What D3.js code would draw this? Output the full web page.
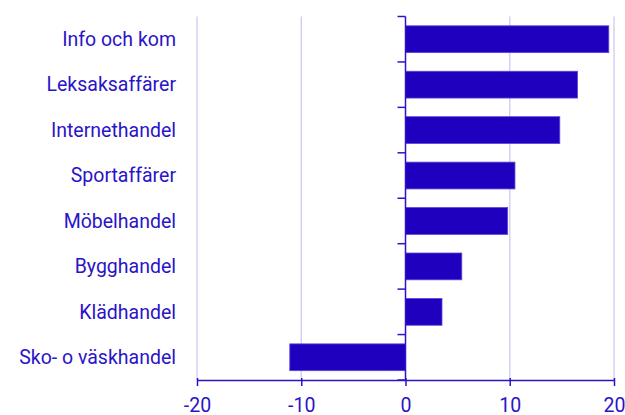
<!DOCTYPE html>
<html>
<head>
<meta charset="utf-8">
<script src="https://cdn.jsdelivr.net/npm/d3@7"></script>
<style>
  body { margin: 0; background: #fff; }
  text { font-family: Roboto, sans-serif; }
</style>
</head>
<body>
<div id="chart"></div>
<script>
"use strict";

var categories = ["Info och kom", "Leksaksaffärer", "Internethandel", "Sportaffärer",
                  "Möbelhandel", "Bygghandel", "Klädhandel", "Sko- o väskhandel"];
var values     = [19.5, 16.5, 14.8, 10.5, 9.8, 5.4, 3.5, -11.1];
var xTicks     = [-20, -10, 0, 10, 20];

var width  = 625;
var height = 415;
var margin = { top: 16.5, right: 11, bottom: 35, left: 197 };
var ink    = "#2a14c8";
var barCol = "#1f00bf";
var grid   = "#d4d2f2";
var fontSize = 19.5;

var svg = d3.select("#chart").append("svg")
  .attr("width", width)
  .attr("height", height);

var x = d3.scaleLinear()
  .domain([-20, 20])
  .range([margin.left, width - margin.right]);

var y = d3.scaleBand()
  .domain(categories)
  .range([margin.top, height - margin.bottom])
  .paddingInner(0.41)
  .paddingOuter(0.205);

// gridlines
svg.append("g")
  .selectAll("line")
  .data(xTicks.filter(function(d) { return d !== 0; }))
  .enter().append("line")
  .attr("x1", function(d) { return x(d); })
  .attr("x2", function(d) { return x(d); })
  .attr("y1", margin.top)
  .attr("y2", height - margin.bottom)
  .attr("stroke", grid)
  .attr("stroke-width", 1.5);

// bars
svg.append("g")
  .selectAll("rect")
  .data(values)
  .enter().append("rect")
  .attr("x", function(d) { return x(Math.min(0, d)); })
  .attr("y", function(d, i) { return y(categories[i]); })
  .attr("width", function(d) { return Math.abs(x(d) - x(0)); })
  .attr("height", y.bandwidth())
  .attr("fill", barCol)
  .attr("stroke", "#5a46d6")
  .attr("stroke-width", 0.8);

// zero line with category separators
var zero = svg.append("g");
zero.append("line")
  .attr("x1", x(0)).attr("x2", x(0))
  .attr("y1", margin.top).attr("y2", height - margin.bottom)
  .attr("stroke", ink)
  .attr("stroke-width", 1.5);

var seps = d3.range(categories.length + 1).map(function(i) {
  return margin.top + i * (height - margin.top - margin.bottom) / categories.length;
});
zero.selectAll(".sep")
  .data(seps)
  .enter().append("line")
  .attr("class", "sep")
  .attr("x1", x(0) - 8).attr("x2", x(0))
  .attr("y1", function(d) { return d; })
  .attr("y2", function(d) { return d; })
  .attr("stroke", ink)
  .attr("stroke-width", 1.5);

// category labels
svg.append("g")
  .selectAll("text")
  .data(categories)
  .enter().append("text")
  .attr("x", 176)
  .attr("y", function(d) { return y(d) + y.bandwidth() / 2; })
  .attr("dy", "0.35em")
  .attr("text-anchor", "end")
  .attr("fill", ink)
  .attr("font-size", fontSize)
  .text(function(d) { return d; });

// x axis
var xAxis = svg.append("g")
  .attr("transform", "translate(0," + (height - margin.bottom) + ")")
  .call(d3.axisBottom(x).tickValues(xTicks).tickSize(6).tickSizeOuter(0).tickPadding(12.5));

xAxis.select(".domain").attr("stroke", ink).attr("stroke-width", 1.5);
xAxis.selectAll(".tick line")
  .attr("stroke", ink)
  .attr("stroke-width", 1.5)
  .attr("y1", -2);
xAxis.selectAll(".tick text")
  .attr("fill", ink)
  .attr("font-size", fontSize)
  .attr("font-family", "Roboto, sans-serif")
  .text(function(d) { return d < 0 ? "-" + Math.abs(d) : d; });
</script>
</body>
</html>
